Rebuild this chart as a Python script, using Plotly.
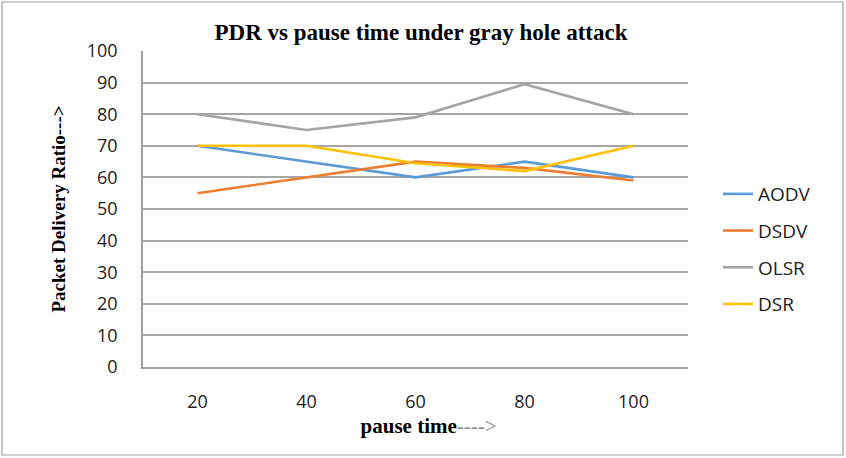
import plotly.graph_objects as go

pause_time = ["20", "40", "60", "80", "100"]
aodv = [70, 65, 60, 65, 60]
dsdv = [55, 60, 65, 63, 59]
olsr = [80, 75, 79, 89.5, 80]
dsr = [70, 70, 64.5, 62, 70]
y_ticks = list(range(0, 101, 10))

series = [("AODV", aodv, "#5B9BD5"), ("DSDV", dsdv, "#ED7D31"),
          ("OLSR", olsr, "#A5A5A5"), ("DSR", dsr, "#FFC000")]

W, H = 846, 458
L, R, T, B = 143, 158, 51, 91
pw, ph = W - L - R, H - T - B

fig = go.Figure()
for name, vals, col in series:
    fig.add_trace(go.Scatter(x=pause_time, y=vals, mode="lines", name=name,
                             legendgroup=name,
                             line=dict(color=col, width=2.6)))

fig.update_layout(
    width=W, height=H,
    margin=dict(l=L, r=R, t=T, b=B),
    paper_bgcolor="white", plot_bgcolor="white",
    title=dict(text="<b>PDR vs pause time under gray hole attack</b>",
               x=(421) / W, xanchor="center", y=1 - 32 / H, yanchor="middle",
               font=dict(family="Liberation Serif", size=23, color="black")),
    showlegend=True,
    legend=dict(x=(718 - L) / pw, xanchor="left", y=(H - B - 175) / ph, yanchor="top",
                tracegroupgap=9, bgcolor="rgba(0,0,0,0)",
                font=dict(family="Open Sans", size=19, color="#222")),
    xaxis=dict(type="category", range=[-0.5, 4.5], showgrid=False, showline=True,
               linecolor="#A0A0A0", linewidth=1.5, ticks="", ticklabelstandoff=18,
               tickfont=dict(family="Open Sans", size=18, color="#222"),
               title=dict(text="&nbsp;&nbsp;&nbsp;&nbsp;&nbsp;<b>pause time</b><span style='color:#888'>----></span>",
                          standoff=6,
                          font=dict(family="Liberation Serif", size=21, color="black"))),
    yaxis=dict(range=[0, 100], tickvals=y_ticks, showgrid=True, gridcolor="#A6A6A6",
               gridwidth=1.5, showline=True, linecolor="#A0A0A0", linewidth=1.5,
               zeroline=False, ticks="", ticklabelstandoff=20,
               tickfont=dict(family="Open Sans", size=18, color="#222"),
               title=dict(text="<b>Packet Delivery Ratio---></b>", standoff=16,
                          font=dict(family="Liberation Serif", size=19, color="black"))),
    shapes=[dict(type="rect", xref="paper", yref="paper",
                 x0=(2 - L) / pw, x1=(W - 3 - L) / pw,
                 y0=(H - B - (H - 3)) / ph, y1=(H - B - 2) / ph,
                 line=dict(color="#A0A0A0", width=1.2), layer="below")],
)

fig.write_html("out.html", config={"displayModeBar": False},
               post_script="document.body.style.margin='0';document.body.style.overflow='hidden';")
